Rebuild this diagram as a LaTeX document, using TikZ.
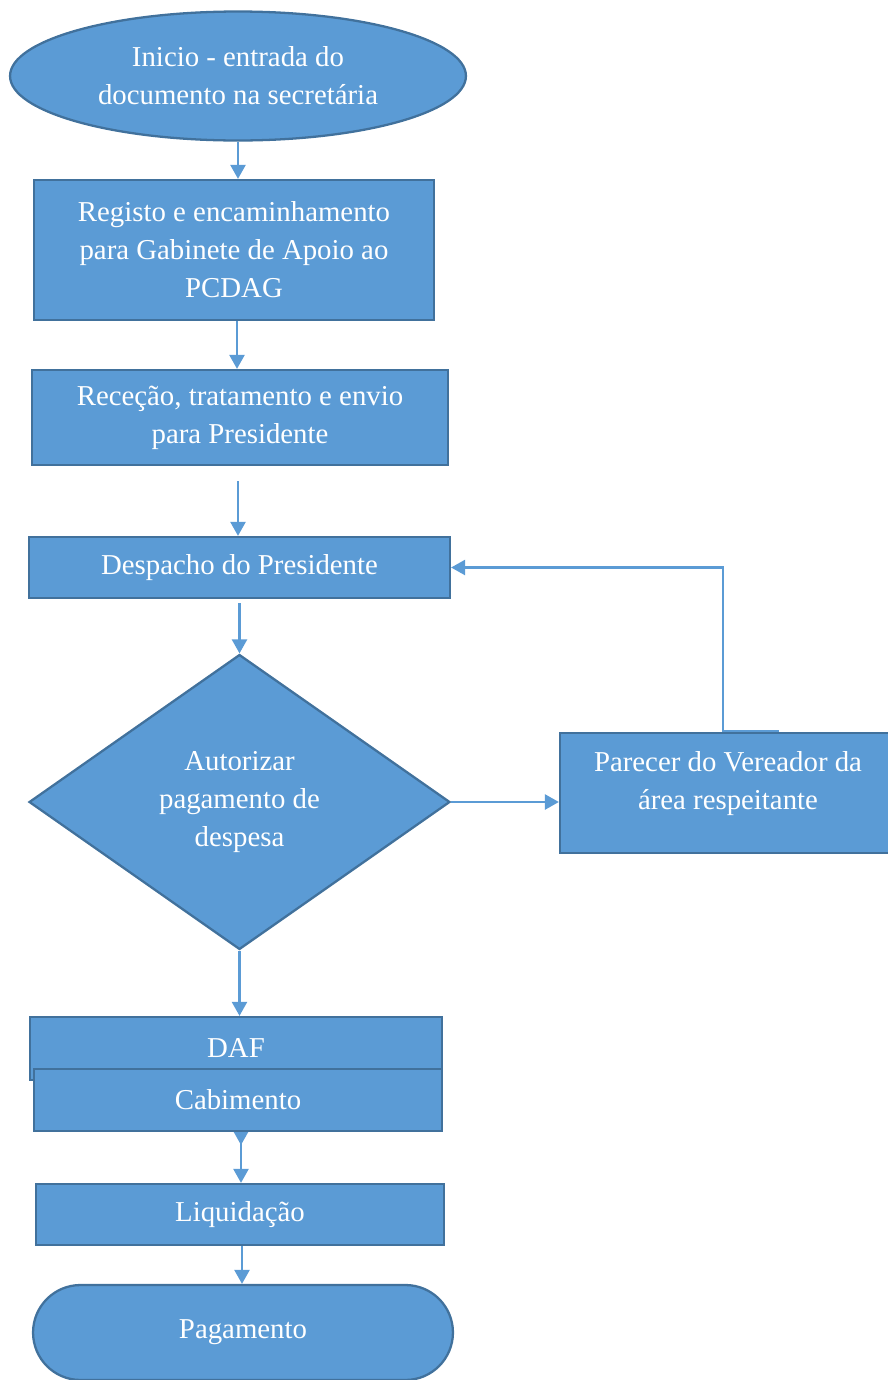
\documentclass[tikz,border=0pt]{standalone}
\usepackage{fontspec}
\setmainfont{Liberation Serif}
\usetikzlibrary{arrows.meta,shapes.geometric,shapes.misc}
\definecolor{officeblue}{HTML}{5B9BD5}
\definecolor{officeline}{HTML}{41719C}

\begin{document}
\begin{tikzpicture}[x=0.02cm, y=-0.02cm,
	every node/.style={font=\fontsize{16.4}{21.6}\selectfont, text=white, align=center},
	shapebox/.style={draw=officeline, fill=officeblue, line width=1.3pt, inner sep=0pt},
	procbox/.style={shapebox, rectangle},
	arr/.style={draw=officeblue, line width=1.4pt, -{Triangle[length=0.28cm, width=0.3cm]}}]
\useasboundingbox (0,0) rectangle (887,1380);

% start
	\node[shapebox, ellipse, minimum width=9.12cm, minimum height=2.58cm] (inicio) at (238,76) {Inicio - entrada do\\documento na secretária};

% main column
	\node[procbox, minimum width=8cm, minimum height=2.8cm] (registo) at (234,250) {Registo e encaminhamento\\para Gabinete de Apoio ao\\PCDAG};
	\node[procbox, minimum width=8.32cm, minimum height=1.9cm] (rececao) at (240,417.5) {Receção, tratamento e envio\\para Presidente};
	\node[procbox, minimum width=8.42cm, minimum height=1.22cm] (despacho) at (239.5,567.5) {Despacho do Presidente};

% decision
	\node[shapebox, diamond, aspect=1.43, minimum width=8.42cm, minimum height=5.9cm] (autorizar) at (239.5,802) {Autorizar\\pagamento de\\despesa};

% side box
	\node[procbox, minimum width=6.72cm, minimum height=2.4cm, text depth=0.5cm] (parecer) at (728,793) {Parecer do Vereador da\\área respeitante};

% DAF and below
	\node[procbox, minimum width=8.24cm, minimum height=1.26cm] (daf) at (236,1048.5) {DAF};
	\coordinate (daftip) at (241,1145);
	\draw[arr] (daf.south -| daftip) -- (daftip);
	\node[procbox, minimum width=8.16cm, minimum height=1.24cm] (cabimento) at (238,1100) {Cabimento};
	\node[procbox, minimum width=8.16cm, minimum height=1.22cm] (liquidacao) at (240,1214.5) {Liquidação};
	\node[shapebox, rounded rectangle, minimum width=8.4cm, minimum height=1.9cm] (pagamento) at (243,1332.5) {Pagamento};

% arrows
	\draw[arr] (inicio.south) -- (inicio.south |- registo.north);
	\draw[arr] ([xshift=0.06cm]registo.south) -- ([xshift=0.06cm]registo.south |- rececao.north);
	\draw[arr, shorten <=0.3cm] ([xshift=-0.04cm]rececao.south) -- ([xshift=-0.04cm]rececao.south |- despacho.north);
	\draw[arr, shorten <=0.08cm] (despacho.south) -- (autorizar.north);
	\draw[arr] (autorizar.east) -- (autorizar.east -| parecer.west);
	\draw[arr] (autorizar.south) -- (autorizar.south |- daf.north);
	\draw[arr] (cabimento.south -| daftip) -- (daftip |- liquidacao.north);
	\draw[arr] ([xshift=0.04cm]liquidacao.south) -- ([xshift=0.04cm]liquidacao.south |- pagamento.north);

% back to Despacho
	\coordinate (stub) at (779,731);
	\coordinate (corner) at (723,731);
	\draw[arr] (stub) -- (corner) |- (despacho.east);

\end{tikzpicture}
\end{document}
